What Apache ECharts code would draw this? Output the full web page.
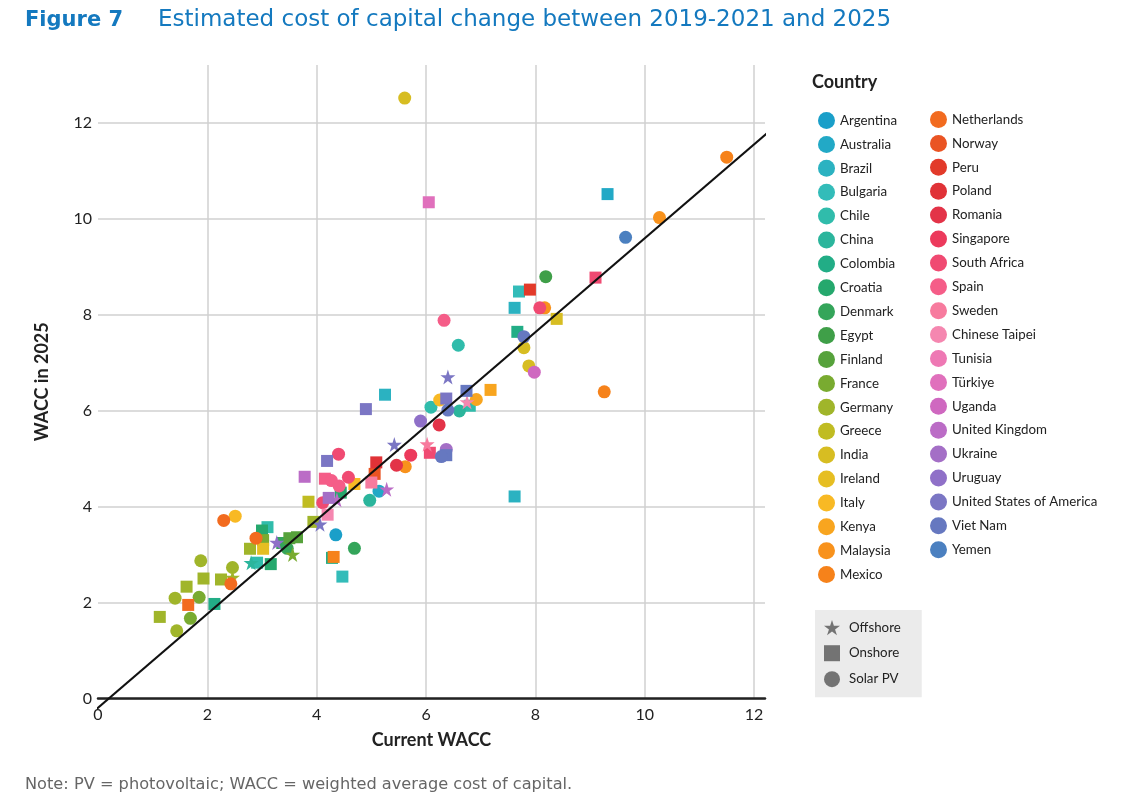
<!DOCTYPE html>
<html>
<head>
<meta charset="utf-8">
<script src="https://cdn.jsdelivr.net/npm/echarts@6/dist/echarts.min.js"></script>
<style>
html,body{margin:0;padding:0;background:#fff;}
#chart{width:1147px;height:800px;}
</style>
</head>
<body>
<div id="chart"></div>
<script>
// ---------- DATA ----------
const countries = ["Argentina","Australia","Brazil","Bulgaria","Chile","China","Colombia","Croatia","Denmark","Egypt","Finland","France","Germany","Greece","India","Ireland","Italy","Kenya","Malaysia","Mexico","Netherlands","Norway","Peru","Poland","Romania","Singapore","South Africa","Spain","Sweden","Chinese Taipei","Tunisia","Türkiye","Uganda","United Kingdom","Ukraine","Uruguay","United States of America","Viet Nam","Yemen"];
const countryColors = ["#1a9fc9","#22a9c6","#2bb2c1","#33bcb9","#30bcab","#2bb59c","#22ad86","#25a86d","#34a55a","#3f9f48","#56a23b","#79ab30","#a0b52a","#c0bc22","#d7bd22","#e6be22","#f8b924","#f8a51f","#f8921c","#f6821a","#f26b1f","#ea5423","#e23a2a","#e03237","#e33348","#ec3a5c","#f04a72","#f55d88","#f77b9e","#f587b0","#ee78b4","#e070bc","#cf68c0","#bb6cc6","#a46fc6","#8f70c8","#7b76c4","#6678c0","#4b80c0"];

const solarX = [5.61,11.50,10.27,9.65,8.19,8.08,8.17,7.79,7.79,7.88,7.98,9.26,6.33,6.59,6.25,6.92,6.09,6.40,6.61,5.90,6.24,6.37,6.28,5.72,5.62,4.40,5.46,4.27,4.58,4.41,5.14,4.97,4.11,4.35,4.69,2.30,2.51,2.89,3.46,1.88,2.46,2.43,1.41,1.85,1.69,1.44];
const solarY = [12.51,11.28,10.02,9.61,8.79,8.14,8.14,7.54,7.31,6.93,6.80,6.39,7.88,7.36,6.22,6.23,6.07,6.01,5.99,5.78,5.70,5.19,5.04,5.07,4.83,5.09,4.86,4.54,4.61,4.43,4.32,4.13,4.08,3.41,3.13,3.71,3.80,3.34,3.13,2.87,2.73,2.39,2.09,2.11,1.67,1.41];
const solarCountry = ["India","Mexico","Malaysia","Yemen","Egypt","South Africa","Malaysia","Viet Nam","India","India","Uganda","Mexico","Spain","Chile","Italy","Kenya","Chile","Viet Nam","China","Uruguay","Romania","Ukraine","Viet Nam","Singapore","Malaysia","South Africa","Romania","Spain","South Africa","Spain","Australia","China","South Africa","Argentina","Denmark","Netherlands","Italy","Netherlands","Denmark","Germany","Germany","Netherlands","Germany","France","France","Germany"];

const onshoreX = [6.05,9.32,9.10,7.90,7.70,7.62,8.39,7.67,7.18,6.74,6.37,6.80,6.07,6.37,5.25,4.90,4.19,5.09,5.06,3.78,4.15,4.69,5.00,4.44,4.22,3.85,4.20,3.94,4.31,4.28,4.47,3.50,3.64,3.37,7.62,3.10,3.00,3.02,2.78,3.02,2.91,3.16,1.93,2.25,1.62,1.65,2.13,1.13];
const onshoreY = [10.34,10.51,8.77,8.52,8.48,8.14,7.91,7.64,6.43,6.41,6.25,6.10,5.12,5.07,6.33,6.03,4.95,4.92,4.68,4.62,4.58,4.47,4.50,4.29,4.18,4.10,3.83,3.68,2.95,2.93,2.54,3.34,3.36,3.24,4.21,3.57,3.50,3.30,3.12,3.12,2.83,2.80,2.50,2.48,2.33,1.95,1.97,1.70];
const onshoreCountry = ["Türkiye","Australia","South Africa","Peru","Bulgaria","Brazil","India","Colombia","Kenya","Viet Nam","United States of America","Chile","South Africa","Viet Nam","Brazil","United States of America","United States of America","Poland","Norway","United Kingdom","Spain","Italy","Sweden","Croatia","Ukraine","Greece","Chinese Taipei","Germany","Mexico","Colombia","Bulgaria","Finland","Finland","Denmark","Brazil","Chile","Croatia","France","Germany","Ireland","Chile","Croatia","Germany","Germany","Germany","Netherlands","Colombia","Germany"];

const offshoreX = [6.40,6.02,5.42,5.28,4.37,4.06,3.56,2.80,2.46,6.75,3.27];
const offshoreY = [6.70,5.30,5.29,4.36,4.14,3.63,3.00,2.83,2.52,6.18,3.25];
const offshoreCountry = ["United States of America","Sweden","United States of America","United Kingdom","United Kingdom","United States of America","France","China","Germany","Chinese Taipei","Uruguay"];

// fitted trend line end points
const trendX = [-0.15, 12.3];
const trendY = [-0.34, 11.84];

const xTicks = [0,2,4,6,8,10,12];
const yTicks = [0,2,4,6,8,10,12];

// ---------- BUILD ----------
const STAR = 'path://M50,0L61.2,34.5L97.6,34.5L68.2,55.9L79.4,90.5L50,69.1L20.6,90.5L31.8,55.9L2.4,34.5L38.8,34.5Z';
const techs = [
  {name:'Offshore', symbol: STAR, size: 15, xs: offshoreX, ys: offshoreY, cs: offshoreCountry},
  {name:'Onshore', symbol: 'rect', size: 12, xs: onshoreX, ys: onshoreY, cs: onshoreCountry},
  {name:'Solar PV', symbol: 'circle', size: 13, xs: solarX, ys: solarY, cs: solarCountry}
];

const series = [];
countries.forEach((c, ci) => {
  const data = [];
  techs.forEach(t => {
    t.cs.forEach((cc, i) => {
      if (cc === c) data.push({value: [t.xs[i], t.ys[i]], symbol: t.symbol, symbolSize: t.size});
    });
  });
  series.push({
    name: c, type: 'scatter', data: data,
    itemStyle: {color: countryColors[ci], opacity: 1},
    emphasis: {disabled: true}, z: 3
  });
});
techs.forEach(t => {
  series.push({name: t.name, type: 'scatter', data: [], symbol: t.symbol, symbolSize: t.size, itemStyle: {color: '#555'}});
});
series.push({
  name: 'trend', type: 'line', data: trendX.map((x, i) => [x, trendY[i]]),
  symbol: 'none', clip: false, silent: true, z: 5,
  lineStyle: {color: '#111', width: 2}
});

const FONT = 'Lato';
const legendText = {fontFamily: FONT, fontSize: 13.3, color: '#222'};

const option = {
  animation: false,
  backgroundColor: '#fff',
  grid: {left: 98, right: 382, top: 65, bottom: 101.5, containLabel: false},
  xAxis: {
    type: 'value', min: 0, max: 12.2, interval: 2,
    name: 'Current WACC', nameLocation: 'middle', nameGap: 33,
    nameTextStyle: {fontFamily: FONT, fontSize: 18, fontWeight: 'bold', color: '#222'},
    axisLine: {show: true, onZero: false, lineStyle: {color: '#222', width: 2.5}},
    axisTick: {show: false},
    axisLabel: {fontFamily: FONT, fontSize: 16, color: '#222', margin: 8, showMaxLabel: false,
      formatter: v => xTicks.includes(v) ? String(v) : ''},
    splitLine: {show: true, showMinLine: false, showMaxLine: false, lineStyle: {color: '#d0d0d0', width: 1.5}}
  },
  yAxis: {
    type: 'value', min: 0, max: 13.2, interval: 2,
    name: 'WACC in 2025', nameLocation: 'middle', nameGap: 47, nameRotate: 90,
    nameTextStyle: {fontFamily: FONT, fontSize: 18, fontWeight: 'bold', color: '#222'},
    axisLine: {show: false}, axisTick: {show: false},
    axisLabel: {fontFamily: FONT, fontSize: 16, color: '#222', margin: 6, showMaxLabel: false,
      formatter: v => yTicks.includes(v) ? String(v) : ''},
    splitLine: {show: true, showMaxLine: false, lineStyle: {color: '#d0d0d0', width: 1.5}}
  },
  legend: [
    {orient: 'vertical', left: 813, top: 107, itemWidth: 17, itemHeight: 17, itemGap: 6.9, icon: 'circle',
      data: countries.slice(0, 20), textStyle: legendText, selectedMode: false},
    {orient: 'vertical', left: 925, top: 106, itemWidth: 17, itemHeight: 17, itemGap: 6.9, icon: 'circle',
      data: countries.slice(20), textStyle: legendText, selectedMode: false},
    {orient: 'vertical', left: 815, top: 610, width: 105, itemWidth: 16, itemHeight: 16, itemGap: 10,
      backgroundColor: '#ebebeb', padding: [10, 21, 10, 9],
      data: [{name: 'Offshore', icon: STAR}, {name: 'Onshore', icon: 'rect'}, {name: 'Solar PV', icon: 'circle'}],
      textStyle: {fontFamily: FONT, fontSize: 13.3, color: '#222', padding: [0, 0, 0, 4]}, selectedMode: false}
  ],
  graphic: [
    {type: 'text', left: 25, top: 10, style: {text: 'Figure 7', font: 'bold 21px "DejaVu Sans"', fill: '#1479bf'}},
    {type: 'text', left: 158, top: 9, style: {text: 'Estimated cost of capital change between 2019-2021 and 2025', font: '23px "DejaVu Sans"', fill: '#1479bf'}},
    {type: 'text', left: 812, top: 73, style: {text: 'Country', font: 'bold 18px ' + FONT, fill: '#222'}},
    {type: 'text', left: 25, top: 777, style: {text: 'Note: PV = photovoltaic; WACC = weighted average cost of capital.', font: '16.2px "DejaVu Sans"', fill: '#666'}}
  ],
  series: series
};

const chart = echarts.init(document.getElementById('chart'), null, {renderer: 'canvas'});
chart.setOption(option);
</script>
</body>
</html>
